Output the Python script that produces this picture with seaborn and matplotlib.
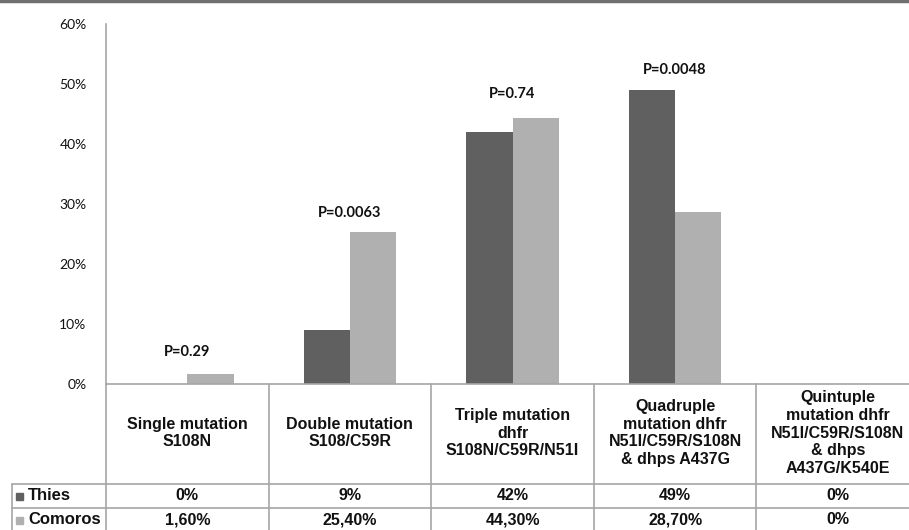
import pandas as pd
import seaborn as sns
import matplotlib.pyplot as plt
from matplotlib.lines import Line2D
from matplotlib.patches import Rectangle

# data
categories = ['Single mutation\nS108N',
              'Double mutation\nS108/C59R',
              'Triple mutation\ndhfr\nS108N/C59R/N51I',
              'Quadruple\nmutation dhfr\nN51I/C59R/S108N\n& dhps A437G',
              'Quintuple\nmutation dhfr\nN51I/C59R/S108N\n& dhps\nA437G/K540E']
thies = [0, 9, 42, 49, 0]
comoros = [1.6, 25.4, 44.3, 28.7, 0]
thies_labels = ['0%', '9%', '42%', '49%', '0%']
comoros_labels = ['1,60%', '25,40%', '44,30%', '28,70%', '0%']
p_values = ['P=0.29', 'P=0.0063', 'P=0.74', 'P=0.0048', None]
p_heights = [5.3, 28.5, 48.3, 52.3, None]

df = pd.DataFrame({
    'cat': categories * 2,
    'value': thies + comoros,
    'site': ['Thies'] * 5 + ['Comoros'] * 5,
})

W, H = 909, 530
dark, light, grid = '#606060', '#b0b0b0', '#a6a6a6'

sns.set_style('white')
plt.rcParams['font.family'] = ['Lato', 'DejaVu Sans']

fig = plt.figure(figsize=(W / 100, H / 100), dpi=100)
x0, x1, ytop, ybot = 106, 919, 24, 384
ax = fig.add_axes([x0 / W, 1 - ybot / H, (x1 - x0) / W, (ybot - ytop) / H])

sns.barplot(data=df, x='cat', y='value', hue='site', palette=[dark, light],
            width=0.57, ax=ax, legend=False, saturation=1,
            edgecolor='none')
ax.set_xlim(-0.5, 4.5)
ax.set_ylim(0, 60)
ax.set_yticks(range(0, 61, 10))
ax.set_yticklabels([f'{v}%' for v in range(0, 61, 10)], fontsize=10, color='#111111')
ax.tick_params(axis='y', length=0, pad=14)
ax.set_xticks([])
ax.set_xlabel('')
ax.set_ylabel('')
for s in ['top', 'right']:
    ax.spines[s].set_visible(False)
for s in ['left', 'bottom']:
    ax.spines[s].set_color(grid)
    ax.spines[s].set_linewidth(1.2)

for i, (p, h) in enumerate(zip(p_values, p_heights)):
    if p:
        ax.text(i, h, p, ha='center', va='center', fontsize=10.5,
                fontweight='bold', color='#111111')

# data table below the plot
def fx(px):
    return px / W

def fy(py):
    return 1 - py / H

def hline(y, xa, xb):
    fig.add_artist(Line2D([fx(xa), fx(xb)], [fy(y), fy(y)], color=grid, lw=1.2))

def vline(x, ya, yb):
    fig.add_artist(Line2D([fx(x), fx(x)], [fy(ya), fy(yb)], color=grid, lw=1.2))

col_w = (x1 - x0) / 5
hline(484, 12, x1)
hline(508, 12, x1)
vline(12, 484, 540)
for k in range(6):
    vline(x0 + k * col_w, ybot, 540)

tfont = dict(family=['Liberation Sans', 'DejaVu Sans'], fontweight='bold',
             fontsize=11.5, color='#111111', ha='center', va='center')
for k, cat in enumerate(categories):
    cx = fx(x0 + (k + 0.5) * col_w)
    fig.text(cx, fy(433), cat, linespacing=1.22, **tfont)
    fig.text(cx, fy(496), thies_labels[k], **tfont)
    fig.text(cx, fy(520), comoros_labels[k], **tfont)

for name, col, y in [('Thies', dark, 496), ('Comoros', light, 520)]:
    fig.add_artist(Rectangle((fx(16), fy(y) - 3.5 / H), 7 / W, 7 / H,
                             color=col, transform=fig.transFigure))
    fig.text(fx(28), fy(y), name, **{**tfont, 'ha': 'left', 'fontsize': 12})

# chart frame top edge
fig.add_artist(Line2D([0, 1], [fy(1), fy(1)], color='#707070', lw=2.5))

fig.savefig('out.png', dpi=100)
